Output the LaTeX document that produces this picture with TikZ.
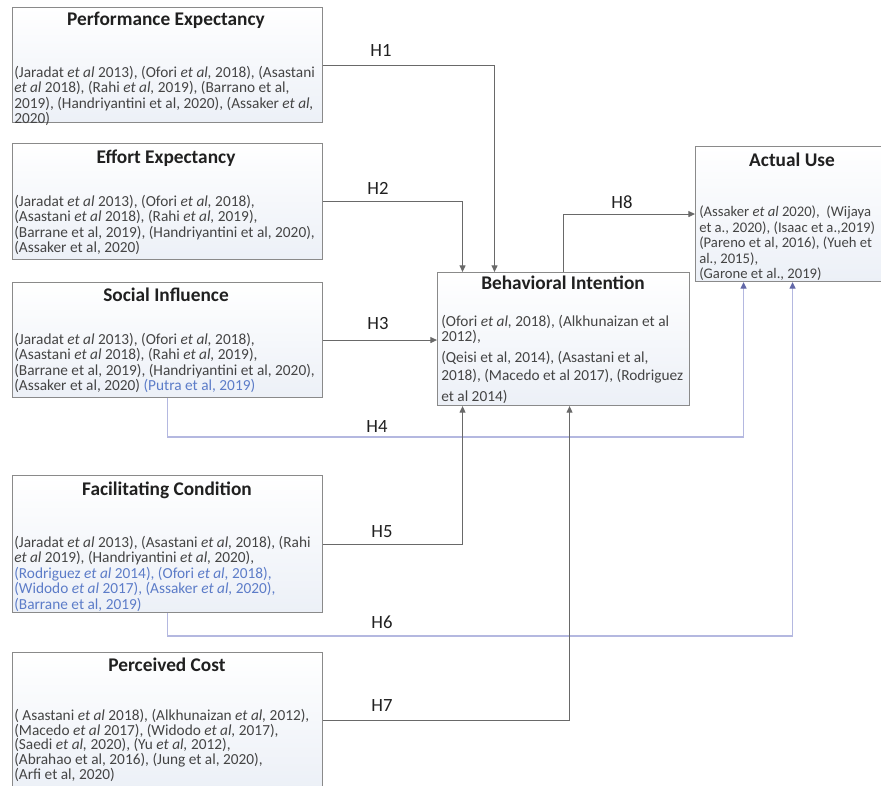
\documentclass[tikz,border=0pt]{standalone}
\usepackage{fontspec}
\setmainfont{Carlito}
\usetikzlibrary{arrows.meta}

\definecolor{boxgray}{RGB}{138,138,138}
\definecolor{linkgray}{RGB}{105,105,105}
\definecolor{linklav}{RGB}{180,184,224}
\definecolor{tiplav}{RGB}{98,104,168}
\definecolor{citeblue}{RGB}{92,124,200}
\definecolor{citegray}{RGB}{68,68,68}
\definecolor{headblack}{RGB}{32,32,32}
\definecolor{boxshade}{RGB}{236,240,247}

\tikzset{
  construct/.style={draw=boxgray, line width=0.8pt, top color=white, bottom color=boxshade, anchor=north west, inner sep=0pt},
  head/.style={font=\fontsize{14.5}{16}\selectfont\bfseries, text=headblack, inner sep=0pt},
  cites/.style={anchor=north west, align=left, inner sep=0pt, font=\fontsize{11.5}{11.6}\selectfont, text=citegray},
  hyp/.style={font=\fontsize{14}{16}\selectfont, text=headblack, inner sep=0pt},
  link/.style={draw=linkgray, line width=0.8pt, -{Triangle[length=5pt,width=4.5pt]}},
  weaklink/.style={draw=linklav, line width=1pt, -{Triangle[length=5pt,width=4.5pt,color=tiplav]}},
}

\begin{document}
\begin{tikzpicture}[x=0.75pt,y=0.75pt,yscale=-1,xscale=1]
\clip (0,0) rectangle (881,785);

%Shape: Rectangle
\node[construct, minimum width=232.5pt, minimum height=86.25pt] (pe) at (12,7) {};
%Shape: Rectangle
\node[construct, minimum width=232.5pt, minimum height=87pt] (ee) at (12,143) {};
%Shape: Rectangle
\node[construct, minimum width=232.5pt, minimum height=86.25pt] (si) at (12,282) {};
%Shape: Rectangle
\node[construct, minimum width=232.5pt, minimum height=102.75pt] (fc) at (12,475) {};
%Shape: Rectangle
\node[construct, minimum width=232.5pt, minimum height=102pt] (pc) at (12,652) {};
%Shape: Rectangle
\node[construct, minimum width=189pt, minimum height=99.75pt] (bi) at (437,272) {};
%Shape: Rectangle
\node[construct, minimum width=145.5pt, minimum height=101.25pt] (au) at (695,146) {};

% Text Node
\node[head] (peHead) at (166,20) {Performance Expectancy};
\node[cites] (peRefs) at (14,66) {(Jaradat \textit{et al} 2013), (Ofori \textit{et al,} 2018), (Asastani\\ \textit{et al} 2018), (Rahi \textit{et al,} 2019), (Barrano et al,\\ 2019), (Handriyantini et al, 2020), (Assaker \textit{et al,}\\ 2020)};
% Text Node
\node[head] (eeHead) at (166,158) {Effort Expectancy};
\node[cites] (eeRefs) at (14,195) {(Jaradat \textit{et al} 2013), (Ofori \textit{et al,} 2018),\\ (Asastani \textit{et al} 2018), (Rahi \textit{et al,} 2019),\\ (Barrane et al, 2019), (Handriyantini et al, 2020),\\ (Assaker et al, 2020)};
% Text Node
\node[head] (siHead) at (166,295) {Social Influence};
\node[cites] (siRefs) at (14,333) {(Jaradat \textit{et al} 2013), (Ofori \textit{et al,} 2018),\\ (Asastani \textit{et al} 2018), (Rahi \textit{et al,} 2019),\\ (Barrane et al, 2019), (Handriyantini et al, 2020),\\ (Assaker et al, 2020) \textcolor{citeblue}{(Putra et al, 2019)}};
% Text Node
\node[head] (fcHead) at (167,490) {Facilitating Condition};
\node[cites] (fcRefs) at (14,536) {(Jaradat \textit{et al} 2013), (Asastani \textit{et al,} 2018), (Rahi\\ \textit{et al} 2019), (Handriyantini \textit{et al,} 2020),\\ \textcolor{citeblue}{(Rodriguez \textit{et al} 2014), (Ofori \textit{et al,} 2018),}\\ \textcolor{citeblue}{(Widodo \textit{et al} 2017), (Assaker \textit{et al,} 2020),}\\ \textcolor{citeblue}{(Barrane et al, 2019)}};
% Text Node
\node[head] (pcHead) at (167,665) {Perceived Cost};
\node[cites, font=\fontsize{11.5}{11}\selectfont] (pcRefs) at (14,709) {( Asastani \textit{et al} 2018), (Alkhunaizan \textit{et al,} 2012),\\ (Macedo \textit{et al} 2017), (Widodo \textit{et al,} 2017),\\ (Saedi \textit{et al,} 2020), (Yu \textit{et al,} 2012),\\ (Abrahao et al, 2016), (Jung et al, 2020),\\ (Arfi et al, 2020)};
% Text Node
\node[head] (biHead) at (563,283) {Behavioral Intention};
\node[cites] (biRefs) at (441,315) {(Ofori \textit{et al,} 2018), (Alkhunaizan et al\\ 2012),\\[4pt] (Qeisi et al, 2014), (Asastani et al,\\[1.5pt] 2018), (Macedo et al 2017), (Rodriguez\\[4pt] et al 2014)};
% Text Node
\node[head] (auHead) at (792,160) {Actual Use};
\node[cites, font=\fontsize{11}{11.6}\selectfont] (auRefs) at (699,206) {(Assaker \textit{et al} 2020),\ \ (Wijaya\\ et a., 2020), (Isaac et a.,2019)\\ (Pareno et al, 2016), (Yueh et\\ al., 2015),\\ (Garone et al., 2019)};

%Straight Lines
\draw[link] (pe.east) -| ([xshift=-51.75pt]bi.north);
\draw[link] (ee.east) -| ([xshift=-75.75pt]bi.north);
\draw[link] (si.east) -- (si.east -| bi.west);
\draw[weaklink] (si.south) -- ++(0,39) -| ([xshift=-36.75pt]au.south);
\draw[link] (fc.east) -| ([xshift=-75.75pt]bi.south);
\draw[weaklink] (fc.south) -- ++(0,23) -| (au.south);
\draw[link] (pc.east) -| ([xshift=4.5pt]bi.south);
\draw[link] (bi.north) |- (au.west);

% Text Node
\node[hyp] (hOne) at (381,50) {H1};
\node[hyp] (hTwo) at (378,188) {H2};
\node[hyp] (hThree) at (378,324) {H3};
\node[hyp] (hFour) at (377,427) {H4};
\node[hyp] (hFive) at (382,532) {H5};
\node[hyp] (hSix) at (382,622) {H6};
\node[hyp] (hSeven) at (382,706) {H7};
\node[hyp] (hEight) at (622,202) {H8};
\end{tikzpicture}
\end{document}
